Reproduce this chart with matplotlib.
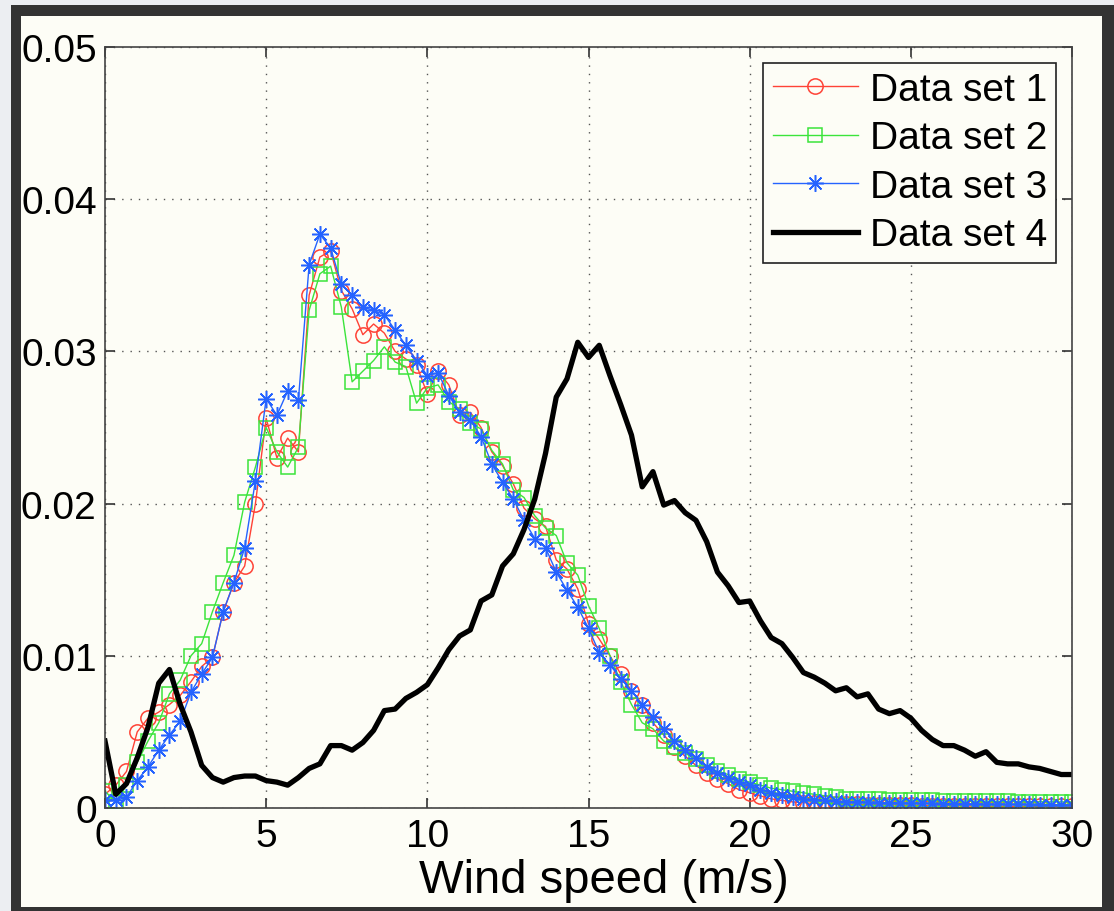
import numpy as np
import matplotlib
matplotlib.use("Agg")
import matplotlib.pyplot as plt
from matplotlib.patches import Rectangle

plt.rcParams['font.family'] = ['Liberation Sans', 'DejaVu Sans']

# wind speed bins, 1/3 m/s apart
wind_speed = np.linspace(0, 30, 91)

set1 = [0.0009, 0.0015, 0.0024, 0.0050, 0.0059, 0.0063, 0.0068, 0.0074, 0.0083, 0.0093,
        0.0099, 0.0129, 0.0148, 0.0159, 0.0200, 0.0256, 0.0230, 0.0243, 0.0234, 0.0337,
        0.0362, 0.0366, 0.0340, 0.0328, 0.0311, 0.0318, 0.0312, 0.0300, 0.0295, 0.0291,
        0.0272, 0.0287, 0.0278, 0.0258, 0.0260, 0.0250, 0.0234, 0.0225, 0.0213, 0.0197,
        0.0190, 0.0185, 0.0163, 0.0157, 0.0144, 0.0121, 0.0111, 0.0100, 0.0088, 0.0077,
        0.0068, 0.0056, 0.0048, 0.0040, 0.0034, 0.0028, 0.0023, 0.0019, 0.0016, 0.0012,
        0.0010, 0.0008, 0.0006, 0.0005, 0.0004, 0.00035, 0.0003, 0.0003, 0.00028, 0.00025,
        0.00024, 0.00022, 0.0002, 0.0002, 0.00018, 0.00017, 0.00016, 0.00015, 0.00014, 0.00013,
        0.00013, 0.00012, 0.00012, 0.00011, 0.00011, 0.0001, 0.0001, 0.0001, 0.0001, 0.0001,
        0.0001]

set2 = [0.0011, 0.0004, 0.0015, 0.0030, 0.0044, 0.0056, 0.0075, 0.0084, 0.0100, 0.0108,
        0.0129, 0.0148, 0.0166, 0.0201, 0.0224, 0.0250, 0.0234, 0.0224, 0.0237, 0.0327,
        0.0351, 0.0356, 0.0329, 0.0280, 0.0287, 0.0294, 0.0303, 0.0293, 0.0290, 0.0266,
        0.0276, 0.0278, 0.0267, 0.0262, 0.0253, 0.0249, 0.0235, 0.0226, 0.0209, 0.0204,
        0.0192, 0.0184, 0.0179, 0.0161, 0.0153, 0.0133, 0.0118, 0.0100, 0.0083, 0.0068,
        0.0056, 0.0052, 0.0044, 0.0040, 0.0036, 0.0032, 0.0028, 0.0024, 0.0022, 0.0019,
        0.0017, 0.0015, 0.0013, 0.0012, 0.0011, 0.0010, 0.0009, 0.0008, 0.0007, 0.0006,
        0.0006, 0.00058, 0.00056, 0.00055, 0.00053, 0.00052, 0.0005, 0.0005, 0.00048, 0.00047,
        0.00046, 0.00045, 0.00045, 0.00044, 0.00043, 0.00042, 0.00042, 0.00041, 0.0004, 0.0004,
        0.0004]

set3 = [0.0005, 0.0005, 0.0007, 0.0018, 0.0027, 0.0038, 0.0048, 0.0057, 0.0076, 0.0088,
        0.0099, 0.0129, 0.0148, 0.0171, 0.0215, 0.0269, 0.0258, 0.0274, 0.0268, 0.0357,
        0.0377, 0.0368, 0.0344, 0.0337, 0.0329, 0.0327, 0.0324, 0.0314, 0.0304, 0.0294,
        0.0284, 0.0286, 0.0271, 0.0260, 0.0255, 0.0244, 0.0226, 0.0214, 0.0203, 0.0189,
        0.0177, 0.0171, 0.0155, 0.0143, 0.0132, 0.0118, 0.0102, 0.0094, 0.0085, 0.0077,
        0.0068, 0.0060, 0.0052, 0.0044, 0.0038, 0.0033, 0.0027, 0.0023, 0.0020, 0.0017,
        0.0015, 0.0012, 0.0010, 0.00085, 0.0007, 0.0006, 0.00055, 0.0005, 0.00045, 0.0004,
        0.0004, 0.00038, 0.00036, 0.00035, 0.00033, 0.00032, 0.0003, 0.0003, 0.00028, 0.00028,
        0.00027, 0.00026, 0.00025, 0.00025, 0.00024, 0.00023, 0.00023, 0.00022, 0.00022, 0.00021,
        0.0002]

set4 = [0.0044, 0.0009, 0.0016, 0.0033, 0.0053, 0.0082, 0.0091, 0.0068, 0.0050, 0.0028,
        0.0020, 0.0017, 0.0020, 0.0021, 0.0021, 0.0018, 0.0017, 0.0015, 0.0020, 0.0026,
        0.0029, 0.0041, 0.0041, 0.0038, 0.0043, 0.0051, 0.0064, 0.0065, 0.0072, 0.0076,
        0.0081, 0.0092, 0.0104, 0.0113, 0.0117, 0.0136, 0.0140, 0.0159, 0.0167, 0.0183,
        0.0203, 0.0233, 0.0270, 0.0282, 0.0306, 0.0296, 0.0304, 0.0284, 0.0265, 0.0245,
        0.0211, 0.0221, 0.0199, 0.0202, 0.0194, 0.0189, 0.0175, 0.0155, 0.0146, 0.0135,
        0.0136, 0.0123, 0.0112, 0.0108, 0.0099, 0.0089, 0.0086, 0.0082, 0.0077, 0.0079,
        0.0073, 0.0075, 0.0065, 0.0062, 0.0064, 0.0059, 0.0051, 0.0045, 0.0041, 0.0041,
        0.0038, 0.0034, 0.0037, 0.0030, 0.0029, 0.0029, 0.0027, 0.0026, 0.0024, 0.0022,
        0.0022]

labels = ['Data set 1', 'Data set 2', 'Data set 3', 'Data set 4']
x_ticks = [0, 5, 10, 15, 20, 25, 30]
y_ticks = [0, 0.01, 0.02, 0.03, 0.04, 0.05]

W, H = 1114, 912
cream = '#fdfdf6'
fig = plt.figure(figsize=(W / 100, H / 100), dpi=100)
fig.patch.set_facecolor('#eceef2')

# dark frame around the plot
fig.add_artist(Rectangle((11 / W, 0), 1 - 11 / W, 1 - 6 / H, transform=fig.transFigure,
                         facecolor='#333333', edgecolor='none', zorder=-3))
fig.add_artist(Rectangle((21 / W, 1 - 908 / H), (1102 - 21) / W, (908 - 17) / H,
                         transform=fig.transFigure, facecolor=cream, edgecolor='none', zorder=-2))

ax = fig.add_axes([105 / W, 1 - 809 / H, (1072 - 105) / W, (809 - 48) / H])
ax.set_facecolor(cream)

ax.plot(wind_speed, set1, color='#ff4236', lw=1.0, marker='o', ms=11,
        mfc='none', mec='#ff4236', mew=1.1, label=labels[0])
ax.plot(wind_speed, set2, color='#3be43b', lw=1.0, marker='s', ms=10,
        mfc='none', mec='#3be43b', mew=1.1, label=labels[1])
ax.plot(wind_speed, set3, color='#2563ff', lw=1.0, marker=(8, 2, 0), ms=12,
        mec='#2563ff', mew=1.1, label=labels[2])
ax.plot(wind_speed, set4, color='black', lw=3.8, label=labels[3])

ax.set_xlim(0, 30)
ax.set_ylim(0, 0.05)
ax.set_xticks(x_ticks)
ax.set_yticks(y_ticks)
ax.set_xticklabels([str(t) for t in x_ticks])
ax.set_yticklabels(['0', '0.01', '0.02', '0.03', '0.04', '0.05'])
ax.tick_params(direction='in', length=7, width=1.2, colors='#333333', labelcolor='black',
               labelsize=28, top=True, right=True)
ax.tick_params(axis='x', pad=7)
ax.tick_params(axis='y', pad=6)
for s in ax.spines.values():
    s.set_color('#444444')
    s.set_linewidth(1.2)
ax.grid(True, linestyle=(0, (1, 5)), color='#555555', lw=1.0)
ax.set_xlabel('Wind speed (m/s)', fontsize=34, labelpad=3)
ax.xaxis.label.set_x(0.516)

leg = ax.legend(loc='upper right', fontsize=28, handlelength=2.2, handletextpad=0.3,
                labelspacing=0.32, borderpad=0.24, borderaxespad=0.4, fancybox=False,
                framealpha=1, facecolor=cream, edgecolor='#222222')
leg.get_frame().set_linewidth(1.2)

fig.savefig('out.png', dpi=100, facecolor=fig.get_facecolor())
